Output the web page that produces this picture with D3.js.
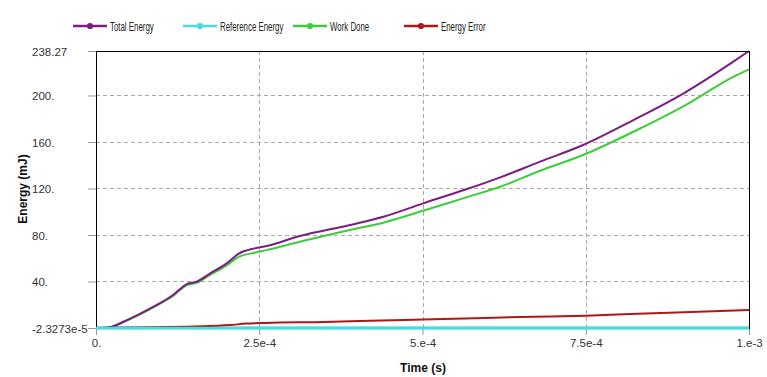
<!DOCTYPE html>
<html>
<head>
<meta charset="utf-8">
<script src="https://cdn.jsdelivr.net/npm/d3@7"></script>
<style>
  html, body { margin: 0; padding: 0; background: #fff; }
  svg { display: block; }
</style>
</head>
<body>
<svg id="chart" width="767" height="377"></svg>
<script>
// ---- Data (time in seconds, energy in mJ) ----
const seriesNames = ["Total Energy", "Reference Energy", "Work Done", "Energy Error"];

const timeMain = [0, 0.15e-4, 0.21e-4, 0.42e-4, 0.65e-4, 0.88e-4, 1.18e-4, 1.39e-4, 1.54e-4, 1.75e-4,
  2.0e-4, 2.18e-4, 2.43e-4, 2.61e-4, 3.12e-4, 3.89e-4, 4.40e-4, 5.01e-4, 5.67e-4, 6.19e-4,
  6.80e-4, 7.46e-4, 8.23e-4, 9.0e-4, 9.76e-4, 1e-3];
const totalEnergy = [0, 0.2, 0.6, 5.4, 11.5, 18.3, 28.4, 37.8, 39.8, 47.0,
  55.6, 63.7, 68.5, 70.5, 79.1, 88.6, 95.7, 107.2, 119.3, 129.6,
  143.1, 157.4, 178.9, 201.9, 229.1, 238.27];
const workDone = [0, 0.2, 0.5, 5.0, 11.0, 17.8, 27.6, 36.8, 38.8, 45.8,
  53.8, 61.0, 64.8, 67.0, 74.2, 84.3, 90.6, 100.8, 112.4, 121.5,
  135.3, 148.8, 168.8, 190.9, 216.0, 222.5];

const timeRef = [0, 1e-3];
const referenceEnergy = [-2.3273e-5, -2.3273e-5];

const timeErr = [0, 0.5e-4, 1.5e-4, 2.05e-4, 2.3e-4, 2.6e-4, 3.5e-4, 4.2e-4, 5.0e-4, 5.8e-4,
  6.5e-4, 7.5e-4, 8.3e-4, 9.0e-4, 1e-3];
const energyError = [0, 0.5, 1.3, 2.5, 3.8, 4.4, 5.2, 6.3, 7.3, 8.4,
  9.5, 10.6, 12.2, 13.5, 15.5];

const xTickValues = [0, 2.5e-4, 5e-4, 7.5e-4, 1e-3];
const xTickLabels = ["0.", "2.5e-4", "5.e-4", "7.5e-4", "1.e-3"];
const yTickValues = [-2.3273e-5, 40, 80, 120, 160, 200, 238.27];
const yTickLabels = ["-2.3273e-5", "40.", "80.", "120.", "160.", "200.", "238.27"];

// ---- Layout / style ----
const colors = ["#7d1c82", "#48dcdc", "#3fcc3a", "#b01818"];
const widths = [2, 3, 2, 2];
const plot = { left: 96, right: 749, top: 51, bottom: 328 };
const FONT = "Liberation Sans, Arial, sans-serif";

const svg = d3.select("#chart");
const x = d3.scaleLinear().domain([0, 1e-3]).range([plot.left, plot.right]);
const y = d3.scaleLinear().domain([-2.3273e-5, 238.27]).range([plot.bottom, plot.top]);

// grid
const grid = svg.append("g");
grid.selectAll("line.h").data(yTickValues.slice(1, -1)).join("line")
  .attr("x1", plot.left).attr("x2", plot.right)
  .attr("y1", d => Math.round(y(d)) + 0.5).attr("y2", d => Math.round(y(d)) + 0.5)
  .attr("stroke", "#a8a8a8").attr("stroke-dasharray", "4,3").attr("stroke-width", 1);
grid.selectAll("line.v").data(xTickValues.slice(1, -1)).join("line")
  .attr("y1", plot.top).attr("y2", plot.bottom)
  .attr("x1", d => Math.round(x(d)) + 0.5).attr("x2", d => Math.round(x(d)) + 0.5)
  .attr("stroke", "#a8a8a8").attr("stroke-dasharray", "4,3").attr("stroke-width", 1);

// axes
const xAxis = d3.axisBottom(x).tickValues(xTickValues)
  .tickFormat((d, i) => xTickLabels[i]).tickSize(7).tickPadding(4);
const gx = svg.append("g").attr("transform", `translate(0,${plot.bottom})`).call(xAxis);
gx.select(".domain").remove();
gx.selectAll(".tick line").attr("stroke", "#999");
gx.selectAll(".tick text").attr("font-family", FONT)
  .attr("font-size", 11.5).attr("fill", "#333");

const yAxis = d3.axisLeft(y).tickValues(yTickValues)
  .tickFormat((d, i) => yTickLabels[i]).tickSize(8);
const gy = svg.append("g").attr("transform", `translate(${plot.left},0)`).call(yAxis);
gy.select(".domain").remove();
gy.selectAll(".tick line").attr("stroke", "#999");
gy.selectAll(".tick text").attr("font-family", FONT)
  .attr("font-size", 11.5).attr("fill", "#333")
  .attr("text-anchor", "start").attr("x", 32 - plot.left).attr("dy", "0.35em");

// data lines
const lineGen = d3.line().x(d => x(d[0])).y(d => y(d[1])).curve(d3.curveMonotoneX);
const seriesData = [
  d3.zip(timeMain, totalEnergy),
  d3.zip(timeRef, referenceEnergy),
  d3.zip(timeMain, workDone),
  d3.zip(timeErr, energyError)
];
const drawOrder = [1, 2, 0, 3];
drawOrder.forEach(i => {
  svg.append("path").datum(seriesData[i]).attr("d", lineGen)
    .attr("fill", "none").attr("stroke", colors[i]).attr("stroke-width", widths[i])
    .attr("stroke-linejoin", "round");
});

// frame
svg.append("rect").attr("x", plot.left + 0.5).attr("y", plot.top + 0.5)
  .attr("width", plot.right - plot.left).attr("height", plot.bottom - plot.top)
  .attr("fill", "none").attr("stroke", "#000").attr("stroke-width", 1);
// reference line drawn over the bottom frame like the original
svg.append("path").datum(seriesData[1]).attr("d", lineGen)
  .attr("fill", "none").attr("stroke", colors[1]).attr("stroke-width", 2.5);

// axis titles
svg.append("text").attr("x", 423).attr("y", 372).attr("text-anchor", "middle")
  .attr("font-family", FONT).attr("font-weight", "bold")
  .attr("font-size", 12).attr("fill", "#111").text("Time (s)");
svg.append("text").attr("transform", "translate(27,189) rotate(-90)").attr("text-anchor", "middle")
  .attr("font-family", FONT).attr("font-weight", "bold")
  .attr("font-size", 12).attr("fill", "#111").text("Energy (mJ)");

// legend
const legendX = [73, 183, 293, 404];
const legendY = 26;
const lg = svg.append("g");
seriesNames.forEach((name, i) => {
  const g = lg.append("g").attr("transform", `translate(${legendX[i]},${legendY})`);
  g.append("line").attr("x1", 0).attr("x2", 34).attr("y1", 0).attr("y2", 0)
    .attr("stroke", colors[i]).attr("stroke-width", 2.5);
  g.append("path").attr("d", d3.symbol().type(d3.symbolCircle).size(30)())
    .attr("transform", "translate(17,0)").attr("fill", colors[i]);
  g.append("text").attr("transform", "translate(37,4.5) scale(0.63,1)")
    .attr("font-family", FONT).attr("font-size", 12.5)
    .attr("fill", "#222").text(name);
});
</script>
</body>
</html>
